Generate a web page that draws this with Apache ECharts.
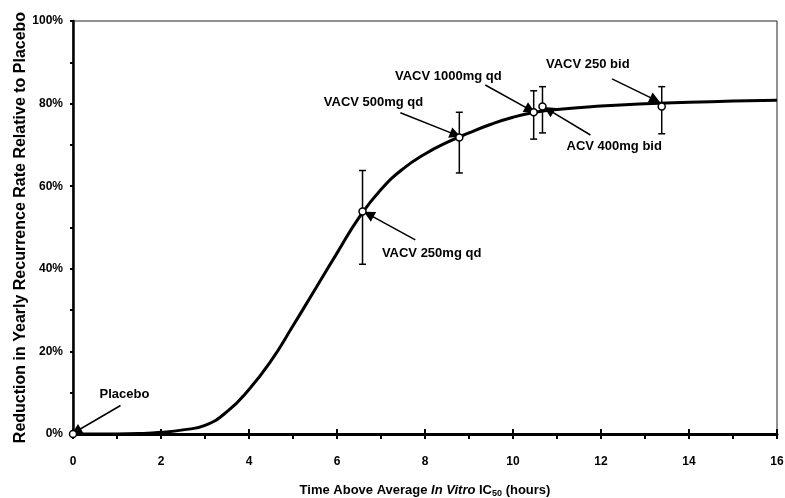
<!DOCTYPE html>
<html>
<head>
<meta charset="utf-8">
<script src="https://cdn.jsdelivr.net/npm/echarts@6/dist/echarts.min.js"></script>
<style>
  html, body { margin: 0; padding: 0; background: #fff; }
  #chart { width: 785px; height: 498px; }
</style>
</head>
<body>
<div id="chart"></div>
<script>
// fitted curve
const curveX = [0, 0.5, 1, 1.5, 2, 2.5, 3, 3.5, 4, 4.5, 5, 5.5, 6, 6.5, 7, 7.5, 8, 8.5, 9, 9.5, 10, 10.5, 11, 12, 13, 14, 15, 16];
const curveY = [0, 0, 0, 0.1, 0.4, 1.0, 2.1, 5.4, 10.8, 17.7, 26.2, 35.0, 43.8, 52.4, 59.2, 64.2, 67.8, 70.6, 72.9, 75.0, 76.7, 77.9, 78.6, 79.4, 79.95, 80.3, 80.6, 80.8];

// observed points + error bars (placebo has none)
const pointNames = ["Placebo", "VACV 250mg qd", "VACV 500mg qd", "VACV 1000mg qd", "ACV 400mg bid", "VACV 250 bid"];
const pointX = [0, 6.58, 8.78, 10.47, 10.67, 13.38];
const pointY = [0, 53.9, 71.8, 77.9, 79.3, 79.3];
const errLow = [null, 41.1, 63.2, 71.4, 72.9, 72.7];
const errHigh = [null, 63.8, 77.9, 83.1, 84.1, 84.1];

// annotation text position and arrow (start -> tip), in data units
const noteX = [1.17, 8.15, 6.83, 8.53, 12.3, 11.7];
const noteY = [9.6, 43.8, 80.2, 86.5, 69.6, 89.6];
const arrowFrom = [[1.08, 6.9], [7.78, 47.0], [7.44, 77.8], [9.37, 84.5], [11.76, 72.4], [12.25, 86.0]];
const arrowTo = [[0.07, 0.6], [6.72, 53.2], [8.69, 72.5], [10.39, 78.5], [10.81, 78.5], [13.23, 80.9]];

const yTicks = [0, 20, 40, 60, 80, 100];

const chart = echarts.init(document.getElementById("chart"));
const font = "Liberation Sans, Arial, sans-serif";

const curveData = curveX.map((x, i) => [x, curveY[i]]);
const pointData = pointX.map((x, i) => [x, pointY[i]]);
const errData = [];
pointX.forEach((x, i) => {
  if (errLow[i] != null) errData.push([x, errLow[i], errHigh[i]]);
});
const noteData = noteX.map((x, i) => [x, noteY[i]]);
const arrowData = arrowFrom.map((a, i) => [{ coord: a }, { coord: arrowTo[i] }]);

const option = {
  animation: false,
  textStyle: { fontFamily: font },
  grid: {
    left: 73, right: 8, top: 21, bottom: 64,
    outerBoundsMode: "none",
    show: true, borderColor: "#222", borderWidth: 1,
  },
  xAxis: [
    {
      type: "value", min: 0, max: 16, interval: 2,
      name: "{b|Time Above Average }{i|In Vitro}{b| IC}{s|50}{b| (hours)}",
      nameLocation: "middle", nameGap: 48,
      nameTextStyle: {
        rich: {
          b: { fontWeight: "bold", fontSize: 13, color: "#000", fontFamily: font, lineHeight: 16 },
          i: { fontWeight: "bold", fontStyle: "italic", fontSize: 13, color: "#000", fontFamily: font, lineHeight: 16 },
          s: { fontWeight: "bold", fontSize: 9, color: "#000", fontFamily: font, lineHeight: 16, verticalAlign: "bottom", padding: [5, 0, 0, 0] },
        },
      },
      axisLine: { lineStyle: { color: "#000", width: 3 } },
      axisTick: { length: 5, lineStyle: { color: "#000", width: 2 } },
      minorTick: { show: true, splitNumber: 2, length: 5, lineStyle: { color: "#000", width: 2 } },
      axisLabel: { margin: 22, fontWeight: "bold", fontSize: 12, color: "#000" },
      splitLine: { show: false },
    },
    {
      // inside half of the major ticks so they cross the axis
      type: "value", min: 0, max: 16, interval: 2, position: "bottom",
      axisLine: { show: false },
      axisTick: { inside: true, length: 5, lineStyle: { color: "#000", width: 2 } },
      axisLabel: { show: false },
      splitLine: { show: false },
    },
  ],
  yAxis: {
    type: "value", min: 0, max: 100, interval: 20,
    name: "Reduction in Yearly Recurrence Rate Relative to Placebo",
    nameLocation: "middle", nameGap: 44,
    nameMoveOverlap: false,
    nameTextStyle: { fontWeight: "bold", fontSize: 16, color: "#000" },
    axisLine: { show: true, lineStyle: { color: "#000", width: 2.5 } },
    axisTick: { show: true, length: 3, lineStyle: { color: "#000", width: 2 } },
    minorTick: { show: true, splitNumber: 2, length: 3, lineStyle: { color: "#000", width: 2 } },
    axisLabel: {
      margin: 10, fontWeight: "bold", fontSize: 12, color: "#000",
      formatter: (v) => (yTicks.includes(v) ? v + "%" : ""),
    },
    splitLine: { show: false },
  },
  series: [
    {
      name: "fit",
      type: "line",
      data: curveData,
      smooth: 0.5,
      showSymbol: false,
      lineStyle: { color: "#000", width: 3 },
      z: 2,
    },
    {
      name: "error",
      type: "custom",
      data: errData,
      encode: { x: 0, y: [1, 2] },
      renderItem: function (params, api) {
        const x = api.value(0);
        const top = api.coord([x, api.value(2)]);
        const bot = api.coord([x, api.value(1)]);
        const w = 3.5;
        const st = { stroke: "#000", lineWidth: 1.5 };
        return {
          type: "group",
          children: [
            { type: "line", shape: { x1: top[0], y1: top[1], x2: bot[0], y2: bot[1] }, style: st },
            { type: "line", shape: { x1: top[0] - w, y1: top[1], x2: top[0] + w, y2: top[1] }, style: st },
            { type: "line", shape: { x1: bot[0] - w, y1: bot[1], x2: bot[0] + w, y2: bot[1] }, style: st },
          ],
        };
      },
      z: 3,
    },
    {
      name: "points",
      type: "scatter",
      data: pointData,
      symbol: "circle",
      symbolSize: 7,
      itemStyle: { color: "#fff", borderColor: "#000", borderWidth: 1.5, opacity: 1 },
      z: 5,
    },
    {
      name: "notes",
      type: "scatter",
      data: noteData,
      symbolSize: 0,
      silent: true,
      itemStyle: { opacity: 1 },
      label: {
        show: true,
        position: "inside",
        formatter: (p) => pointNames[p.dataIndex],
        fontWeight: "bold",
        fontSize: 13,
        color: "#000",
        fontFamily: font,
      },
      markLine: {
        silent: true,
        symbol: ["none", "triangle"],
        symbolSize: 11,
        label: { show: false },
        lineStyle: { color: "#000", width: 1.5, type: "solid", opacity: 1 },
        itemStyle: { color: "#000" },
        data: arrowData,
      },
      z: 4,
    },
  ],
};

chart.setOption(option);
</script>
</body>
</html>
